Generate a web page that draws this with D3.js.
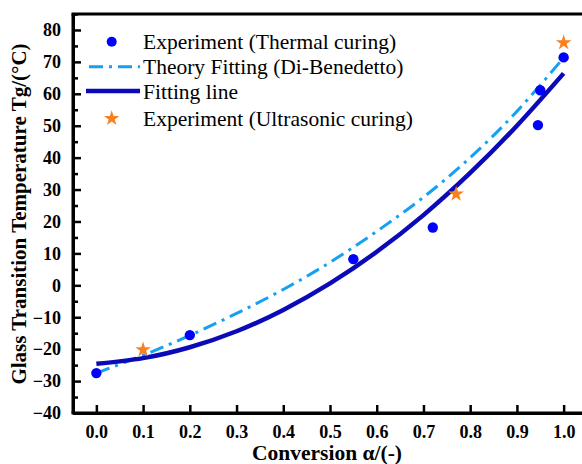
<!DOCTYPE html>
<html><head><meta charset="utf-8">
<script src="https://cdn.jsdelivr.net/npm/d3@7"></script>
<style>
html,body{margin:0;padding:0;background:#fff;overflow:hidden}
text{font-family:"Liberation Serif","Times New Roman",serif}
</style></head>
<body><svg id="chart" width="582" height="464"></svg>
<script>
// ---- data ----
const thermalX = [0, 0.2, 0.55, 0.72, 0.945, 0.95, 1.0];
const thermalY = [-27.5, -15.6, 8.2, 18.1, 50.2, 61.1, 71.4];
const ultraX = [0.1, 0.77, 1.0];
const ultraY = [-20.2, 28.6, 76.0];
const curveX = [0, 0.1, 0.2, 0.3, 0.4, 0.5, 0.6, 0.7, 0.8, 0.9, 1.0];
const theoryY = [-27.5, -21.9, -15.7, -8.8, -1.3, 7.2, 16.9, 27.6, 40.0, 54.5, 71.3];
const fitY = [-24.6, -22.8, -19.4, -14.4, -7.7, 0.6, 10.5, 22.0, 35.2, 50.0, 66.4];
const xTicks = [0, 0.1, 0.2, 0.3, 0.4, 0.5, 0.6, 0.7, 0.8, 0.9, 1.0];
const yTicks = [-40, -30, -20, -10, 0, 10, 20, 30, 40, 50, 60, 70, 80];
const yMinor = [-35, -25, -15, -5, 5, 15, 25, 35, 45, 55, 65, 75, 85];
const legendLabels = ["Experiment (Thermal curing)", "Theory Fitting (Di-Benedetto)", "Fitting line", "Experiment (Ultrasonic curing)"];
const xTitle = "Conversion \u03b1/(-)";
const yTitle = "Glass Transition Temperature Tg/(\u00b0C)";

const C_POINT = "#0000ff", C_THEORY = "#14a0f5", C_FIT = "#0a0ab8", C_STAR = "#f9801e";

const svg = d3.select("#chart");
const L = 73, T = 14, B = 413, R = 590;
const x = d3.scaleLinear().domain([-0.05, 1.05]).range([L, 587]);
const y = d3.scaleLinear().domain([-40, 85]).range([B, T]);

// curves
const line = d3.line().curve(d3.curveNatural);
svg.append("path")
  .attr("d", line(curveX.map((v,i)=>[x(v), y(theoryY[i])])))
  .attr("fill","none").attr("stroke",C_THEORY).attr("stroke-width",3)
  .attr("stroke-dasharray","14,6,3,6");
svg.append("path")
  .attr("d", line(curveX.map((v,i)=>[x(v), y(fitY[i])])))
  .attr("fill","none").attr("stroke",C_FIT).attr("stroke-width",4.5);

// points
svg.selectAll("circle.pt").data(thermalX).enter().append("circle")
  .attr("class","pt").attr("cx",d=>x(d)).attr("cy",(d,i)=>y(thermalY[i]))
  .attr("r",5.2).attr("fill",C_POINT);
const star = d3.symbol().type(d3.symbolStar).size(75);
svg.selectAll("path.st").data(ultraX).enter().append("path")
  .attr("class","st").attr("d",star)
  .attr("transform",(d,i)=>`translate(${x(d)},${y(ultraY[i])})`)
  .attr("fill",C_STAR);

// axes
const xAxis = svg.append("g").attr("transform",`translate(0,${B})`)
  .call(d3.axisBottom(x).tickValues(xTicks).tickFormat(d3.format(".1f")).tickSizeInner(-8).tickSizeOuter(0).tickPadding(12));
const yAxis = svg.append("g").attr("transform",`translate(${L},0)`)
  .call(d3.axisLeft(y).tickValues(yTicks).tickFormat(d3.format("d")).tickSizeInner(-8).tickSizeOuter(0).tickPadding(12));
svg.append("g").attr("transform",`translate(${L},0)`)
  .call(d3.axisLeft(y).tickValues(yMinor).tickFormat("").tickSizeInner(-5).tickSizeOuter(0))
  .select(".domain").remove();
[xAxis, yAxis].forEach(g=>{
  g.select(".domain").attr("stroke","#000").attr("stroke-width",3);
  g.selectAll(".tick text").attr("fill","#000").style("font-size","18px").style("font-weight","bold")
   .style("font-family","'Liberation Serif','Times New Roman',serif");
});
svg.selectAll(".tick line").attr("stroke","#000").attr("stroke-width",2.5);
// full frame
svg.append("line").attr("x1",L-1.5).attr("x2",R).attr("y1",T).attr("y2",T).attr("stroke","#000").attr("stroke-width",3);
svg.append("line").attr("x1",L).attr("x2",L).attr("y1",T).attr("y2",B).attr("stroke","#000").attr("stroke-width",3);
svg.append("line").attr("x1",L-1.5).attr("x2",R).attr("y1",B).attr("y2",B).attr("stroke","#000").attr("stroke-width",3);

// titles
svg.append("text").attr("x",327).attr("y",460).attr("text-anchor","middle")
  .style("font-size","21.5px").style("font-weight","bold").text(xTitle);
svg.append("text").attr("transform","translate(26,214) rotate(-90)").attr("text-anchor","middle")
  .style("font-size","21px").style("font-weight","bold").text(yTitle);

// legend
const lg = svg.append("g");
const rowY = [41.7, 66.7, 91, 118.5];
lg.append("circle").attr("cx",111.7).attr("cy",rowY[0]).attr("r",5).attr("fill",C_POINT);
lg.append("line").attr("x1",87).attr("x2",140).attr("y1",rowY[1]).attr("y2",rowY[1])
  .attr("stroke",C_THEORY).attr("stroke-width",3).attr("stroke-dasharray","14,6,3,6").attr("stroke-dashoffset",-2);
lg.append("line").attr("x1",86).attr("x2",140).attr("y1",rowY[2]).attr("y2",rowY[2])
  .attr("stroke",C_FIT).attr("stroke-width",4.5);
lg.append("path").attr("d",star).attr("transform",`translate(111.7,${rowY[3]})`).attr("fill",C_STAR);
lg.selectAll("text").data(legendLabels).enter().append("text")
  .attr("x",143).attr("y",(d,i)=>rowY[i]+7.5).style("font-size","21.5px").attr("fill","#000").text(d=>d);
</script></body></html>
